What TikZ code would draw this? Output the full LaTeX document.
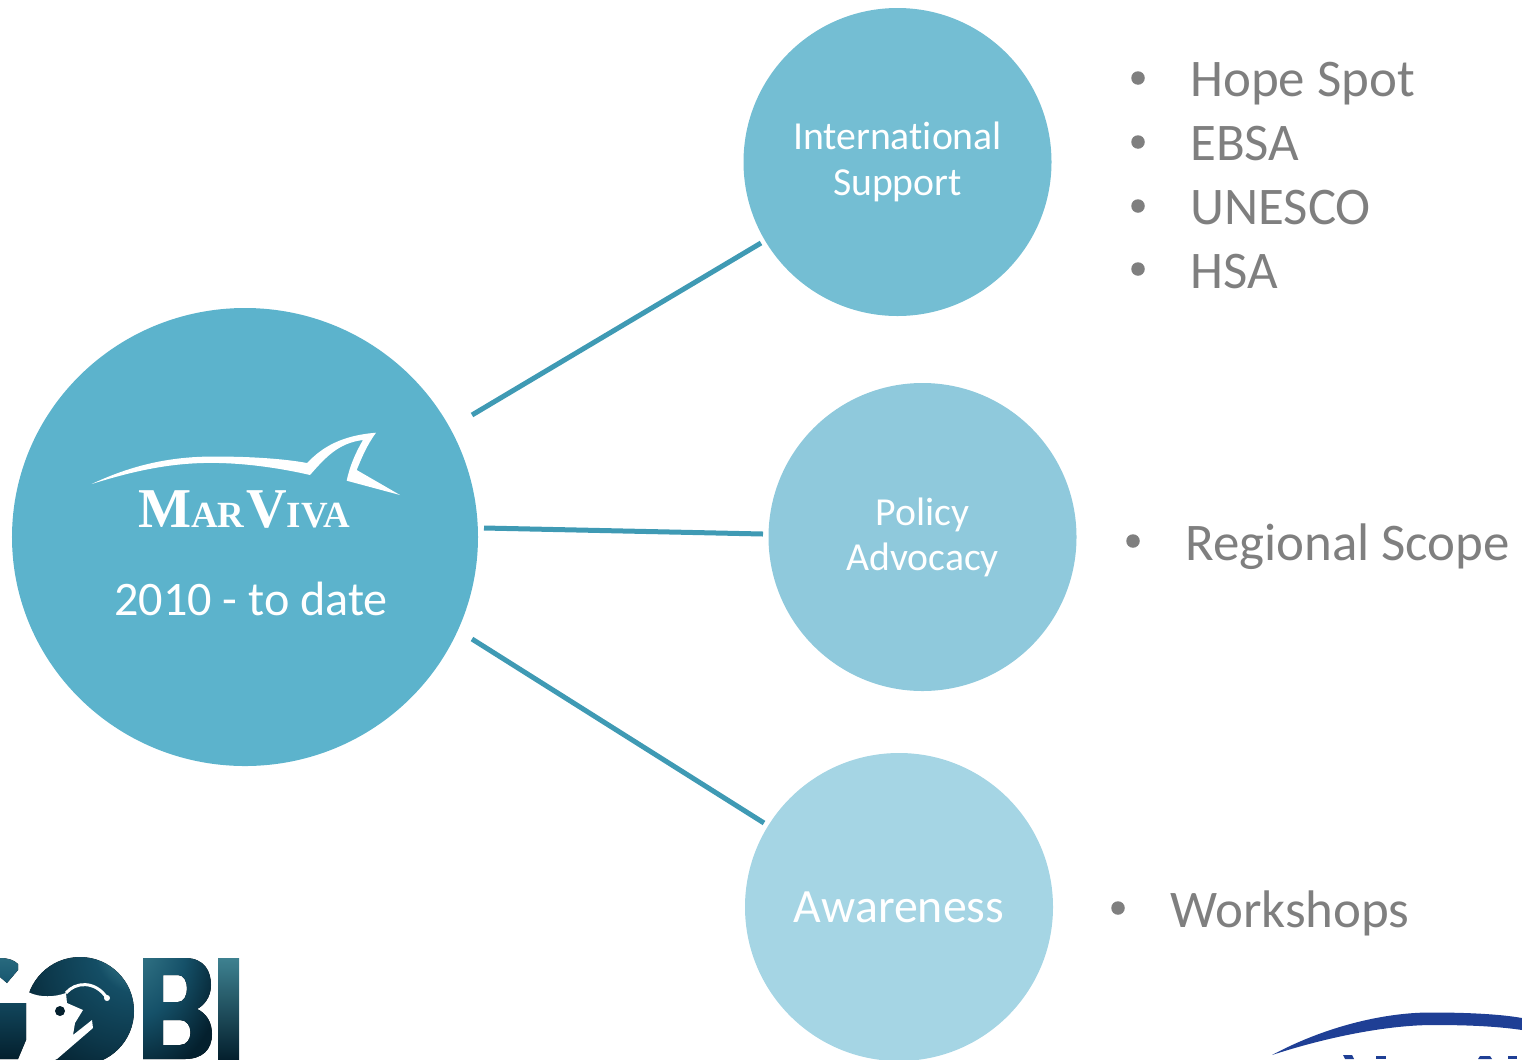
\documentclass[tikz,border=0pt]{standalone}
\usepackage{fontspec}
\setmainfont[Ligatures=NoCommon]{Carlito}
\newfontfamily\logofont{Liberation Serif}
\usepackage{xcolor}
\usetikzlibrary{shapes.geometric}

\definecolor{maincol}{HTML}{5CB3CC}
\definecolor{intlcol}{HTML}{74BED3}
\definecolor{policycol}{HTML}{8FC9DC}
\definecolor{awarecol}{HTML}{A5D5E4}
\definecolor{linecol}{HTML}{3F9AB4}
\definecolor{listcol}{HTML}{7F7F7F}
\definecolor{gobidark}{HTML}{04202E}
\definecolor{gobimid}{HTML}{17566F}
\definecolor{gobilight}{HTML}{6DB6B9}
\definecolor{arcblue}{HTML}{1F3F95}

\pgfdeclareradialshading{ohigh}{\pgfpoint{32bp}{34bp}}{color(0bp)=(gobilight!90!white); color(8bp)=(gobilight!50!gobimid); color(20bp)=(gobimid!85!gobidark); color(38bp)=(gobimid!45!gobidark); color(55bp)=(gobidark); color(120bp)=(gobidark)}
\pgfdeclareradialshading{bhigh}{\pgfpoint{-45bp}{48bp}}{color(0bp)=(gobilight!85!gobimid); color(16bp)=(gobilight!35!gobimid); color(40bp)=(gobimid!90!gobidark); color(62bp)=(gobidark); color(150bp)=(gobidark)}

\tikzset{
  bubble/.style={circle, minimum size=61.6mm, inner sep=0pt, align=center, text=white},
  link/.style={linecol, line width=1mm},
  listtext/.style={anchor=base west, text=listcol, inner sep=0pt, font=\fontsize{30.1}{36}\selectfont},
  listdot/.style={circle, fill=listcol, minimum size=2.7mm, inner sep=0pt}
}

\begin{document}
\begin{tikzpicture}[x=0.2mm, y=-0.2mm]
        \path[use as bounding box, clip] (0,0) rectangle (1522,1059);

        %BUBBLES
        \node[ellipse, fill=maincol, minimum width=93.2mm, minimum height=91.6mm, inner sep=0pt] (marviva) at (245,537) {};
        \node[bubble, fill=intlcol, font=\fontsize{22.6}{26.6}\selectfont] (intl) at (897.5,162) {International\\Support};
        \node[bubble, fill=policycol, font=\fontsize{22.6}{25.5}\selectfont] (policy) at (922.5,537) {Policy\\Advocacy};
        \node[bubble, fill=awarecol, font=\fontsize{27.2}{32}\selectfont] (aware) at (899,907) {Awareness};

        %LINE ENDS
        \coordinate (mtop) at (472,415);
        \coordinate (mmid) at (484,528);
        \coordinate (mlow) at (472,639);
        \coordinate (itop) at (761,243);
        \coordinate (pmid) at (763,534);
        \coordinate (alow) at (764,823);
        \draw[link] (mtop) -- (itop);
        \draw[link] (mmid) -- (pmid);
        \draw[link] (mlow) -- (alow);

        %MARVIVA
        \fill[white] (91.7,484) .. controls (130,466) and (165,458) .. (203,456.7)
            .. controls (240,456) and (280,458) .. (307,463)
            .. controls (318,452) and (335,436) .. (376,432.7)
            .. controls (367,445) and (362,457) .. (356.7,470)
            -- (400,495) -- (346.7,480.7)
            .. controls (350,465) and (356,452) .. (363,440)
            .. controls (338,443) and (325,458) .. (310,475)
            .. controls (280,468) and (240,462) .. (203,463)
            .. controls (165,464) and (130,472) .. (91.7,484) -- cycle;
        \node[anchor=base, text=white, inner sep=0pt] (logoname) at (244,527)
            {\logofont\bfseries\fontsize{32}{32}\selectfont M\fontsize{21}{21}\selectfont AR\hspace{1pt}\fontsize{32}{32}\selectfont V\fontsize{21}{21}\selectfont IVA};
        \node[anchor=base, text=white, inner sep=0pt, font=\fontsize{27.4}{32}\selectfont] (years) at (251,615) {2010 - to date};

        %LISTS
        \node[listdot] (d1) at (1138,78) {};
        \node[listtext] (hope) at (1190,96) {Hope Spot};
        \node[listdot] (d2) at (1138,142) {};
        \node[listtext] (ebsa) at (1190,160) {EBSA};
        \node[listdot] (d3) at (1138,206) {};
        \node[listtext] (unesco) at (1190,224) {UNESCO};
        \node[listdot] (d4) at (1138,269) {};
        \node[listtext] (hsa) at (1190,288) {HSA};
        \node[listdot] (d5) at (1133,541) {};
        \node[listtext] (scope) at (1185,560) {Regional Scope};
        \node[listdot] (d6) at (1118,908) {};
        \node[listtext] (shops) at (1170,927) {Workshops};

        %GOBI
        \fill[shading=ohigh] (80,1011) circle (54);
        \fill[white] (20,990) -- (28,992) .. controls (40,998) and (55,997) .. (66,993)
            -- (67,1003) -- (83,1010) -- (75,1023) -- (73,1035) -- (92,1020) -- (93,1028) -- (57,1059) -- (20,1059) -- cycle;
        \draw[white, line width=0.6mm] (66,993) .. controls (75,982) and (95,980) .. (107,998);
        \fill[white] (107,998) circle (3);
        \fill[gobidark] (60,1011) circle (5);
        \fill[top color=gobimid!80!gobilight, bottom color=gobimid] (0,958) .. controls (8,958) and (14,960) .. (18,964) -- (18,970) -- (7,983) -- (0,977) -- cycle;
        \fill[top color=gobimid!70!gobidark, bottom color=gobidark] (0,1003) -- (26,1003) -- (26,1040) -- (18,1059) -- (0,1059) -- cycle;
        \fill[even odd rule, shading=bhigh]
            (143,958) -- (185,958) .. controls (205,958) and (211,972) .. (211,985)
            .. controls (211,998) and (203,1006) .. (197,1009)
            .. controls (206,1013) and (212,1022) .. (212,1034)
            .. controls (212,1050) and (202,1059) .. (185,1059) -- (143,1059) -- cycle
            (163,975) -- (163,1002) -- (178,1002) .. controls (190,1002) and (190,975) .. (178,975) -- cycle
            (163,1020) -- (163,1045) -- (180,1045) .. controls (194,1045) and (194,1020) .. (180,1020) -- cycle;
        \fill[top color=gobilight!45!gobimid, middle color=gobimid, bottom color=gobidark] (218,958) rectangle (239,1059);

        %BLUE ARC
        \fill[arcblue] (1272,1055) .. controls (1330,1024) and (1390,1012) .. (1433,1012.5)
            .. controls (1465,1012.5) and (1500,1014) .. (1522,1018)
            -- (1522,1030) .. controls (1495,1026) and (1465,1025) .. (1433,1025)
            .. controls (1390,1025) and (1330,1036) .. (1272,1055) -- cycle;
        \fill[arcblue] (1343,1055) -- (1352,1055) -- (1354,1059) -- (1345,1059) -- cycle;
        \fill[arcblue] (1376,1056) rectangle (1386,1059);
        \fill[arcblue] (1480,1056) -- (1490,1056) -- (1492,1059) -- (1478,1059) -- cycle;
        \fill[arcblue] (1508,1056) rectangle (1517,1059);
\end{tikzpicture}
\end{document}
